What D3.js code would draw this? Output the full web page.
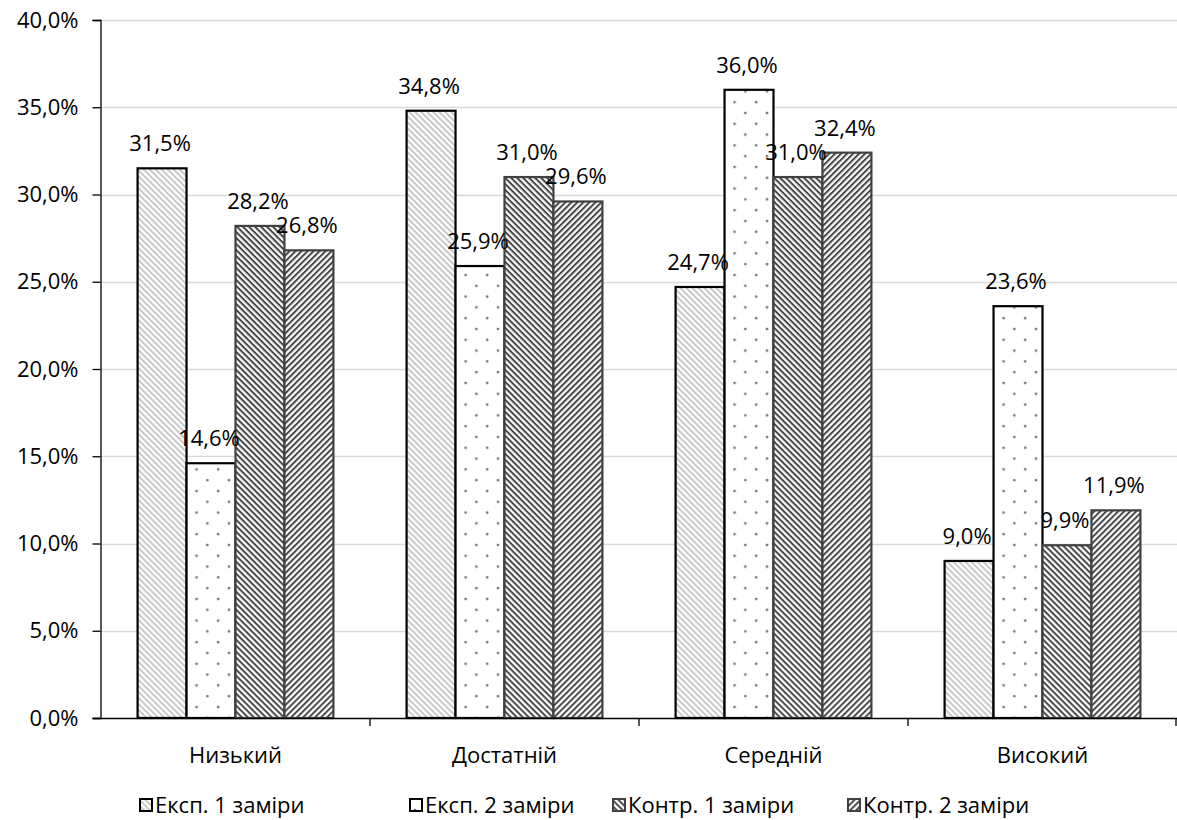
<!DOCTYPE html>
<html>
<head>
<meta charset="utf-8">
<script src="https://cdn.jsdelivr.net/npm/d3@7"></script>
<style>
  html, body { margin: 0; padding: 0; background: #fff; }
  svg { display: block; }
  text { font-family: "Open Sans", "Noto Sans", sans-serif; fill: #000; }
</style>
</head>
<body>
<svg id="chart" width="1177" height="820"></svg>
<script>
const categories = ["Низький", "Достатній", "Середній", "Високий"];
const seriesNames = ["Експ. 1 заміри", "Експ. 2 заміри", "Контр. 1 заміри", "Контр. 2 заміри"];
const exp1 = [31.5, 34.8, 24.7, 9.0];
const exp2 = [14.6, 25.9, 36.0, 23.6];
const kontr1 = [28.2, 31.0, 31.0, 9.9];
const kontr2 = [26.8, 29.6, 32.4, 11.9];
const yTicks = [0, 5, 10, 15, 20, 25, 30, 35, 40];

const seriesValues = [exp1, exp2, kontr1, kontr2];
const fmt = v => v.toFixed(1).replace(".", ",") + "%";

const svg = d3.select("#chart");
const W = 1177, H = 820;
const m = { left: 101, right: 0, top: 20, bottom: 102 };
const plotBottom = H - m.bottom; // 718
const FS = 22;

const defs = svg.append("defs");
function stripes(id, color, angle, sw) {
  const p = defs.append("pattern").attr("id", id)
    .attr("patternUnits", "userSpaceOnUse")
    .attr("width", 4.24).attr("height", 4.24)
    .attr("patternTransform", `rotate(${angle})`);
  p.append("rect").attr("width", 4.24).attr("height", 4.24).attr("fill", "#fff");
  p.append("rect").attr("x", 0).attr("y", 0).attr("width", 4.24).attr("height", sw).attr("fill", color);
}
stripes("p0", "#c8c8c8", 45, 2);
stripes("p2", "#4a4a4a", 45, 2);
stripes("p3", "#4a4a4a", -45, 2);
const dots = defs.append("pattern").attr("id", "p1")
  .attr("patternUnits", "userSpaceOnUse")
  .attr("width", 21.6).attr("height", 21.6)
  .attr("x", 0).attr("y", 0);
dots.append("rect").attr("width", 21.6).attr("height", 21.6).attr("fill", "#fff");
dots.append("circle").attr("cx", 5).attr("cy", 5).attr("r", 1.4).attr("fill", "#777");
dots.append("circle").attr("cx", 15.8).attr("cy", 15.8).attr("r", 1.4).attr("fill", "#777");

const fills = ["url(#p0)", "url(#p1)", "url(#p2)", "url(#p3)"];
const strokes = ["#000", "#000", "#404040", "#404040"];

const x0 = d3.scaleBand().domain(categories)
  .range([m.left, W - m.right]).paddingInner(0.272).paddingOuter(0.136);
const x1 = d3.scaleBand().domain(d3.range(4)).range([0, x0.bandwidth()]);
const y = d3.scaleLinear().domain([0, 40]).range([plotBottom, m.top]);

// gridlines
svg.append("g").selectAll("line").data(yTicks.filter(d => d > 0)).join("line")
  .attr("x1", m.left).attr("x2", W - m.right)
  .attr("y1", d => Math.round(y(d)) + 0.5).attr("y2", d => Math.round(y(d)) + 0.5)
  .attr("stroke", "#d9d9d9").attr("stroke-width", 1.5);

// y axis
const yAxis = d3.axisLeft(y).tickValues(yTicks).tickFormat(fmt).tickSize(8).tickPadding(14);
const gy = svg.append("g").attr("transform", `translate(${m.left - 0.5},0)`).call(yAxis);
gy.select(".domain").attr("stroke", "#000").attr("stroke-width", 1.3);
gy.selectAll(".tick line").attr("stroke", "#000").attr("stroke-width", 1.3);
gy.selectAll(".tick text").attr("font-size", FS).attr("font-family", "Open Sans");

// bars
const groups = svg.append("g").selectAll("g").data(categories).join("g")
  .attr("transform", d => `translate(${x0(d)},0)`);
groups.selectAll("rect").data((c, ci) => seriesValues.map((s, si) => ({ si, v: s[ci] })))
  .join("rect")
  .attr("x", d => x1(d.si))
  .attr("y", d => y(d.v))
  .attr("width", x1.bandwidth())
  .attr("height", d => plotBottom - y(d.v))
  .attr("fill", d => fills[d.si])
  .attr("stroke", d => strokes[d.si])
  .attr("stroke-width", 2.2);

// labels
groups.selectAll("text.lbl").data((c, ci) => seriesValues.map((s, si) => ({ si, v: s[ci] })))
  .join("text").attr("class", "lbl")
  .attr("x", d => x1(d.si) + x1.bandwidth() / 2 - 2)
  .attr("y", d => y(d.v) - 17)
  .attr("text-anchor", "middle").attr("font-size", FS)
  .text(d => fmt(d.v));

// x axis
const step = x0.step();
const xAxisG = svg.append("g");
xAxisG.append("line").attr("x1", m.left - 8).attr("x2", W)
  .attr("y1", plotBottom + 0.5).attr("y2", plotBottom + 0.5)
  .attr("stroke", "#000").attr("stroke-width", 1.3);
const boundaries = categories.map(c => x0(c) - step * x0.paddingInner() / 2).concat([W - m.right - 1]);
xAxisG.selectAll("line.tk").data(boundaries.slice(1)).join("line").attr("class", "tk")
  .attr("x1", d => d).attr("x2", d => d)
  .attr("y1", plotBottom).attr("y2", plotBottom + 8)
  .attr("stroke", "#000").attr("stroke-width", 1.3);
xAxisG.selectAll("text").data(categories).join("text")
  .attr("x", d => x0(d) + x0.bandwidth() / 2)
  .attr("y", plotBottom + 45)
  .attr("text-anchor", "middle").attr("font-size", FS)
  .text(d => d);

// legend
const legendX = [140, 410, 613, 848];
const lg = svg.append("g").selectAll("g").data(seriesNames).join("g")
  .attr("transform", (d, i) => `translate(${legendX[i]},805)`);
lg.append("rect").attr("x", 0).attr("y", -6).attr("width", 12).attr("height", 12)
  .attr("fill", (d, i) => fills[i]).attr("stroke", (d, i) => strokes[i]).attr("stroke-width", 2);
lg.append("text").attr("x", 15).attr("y", 8).attr("font-size", FS).text(d => d);
</script>
</body>
</html>
